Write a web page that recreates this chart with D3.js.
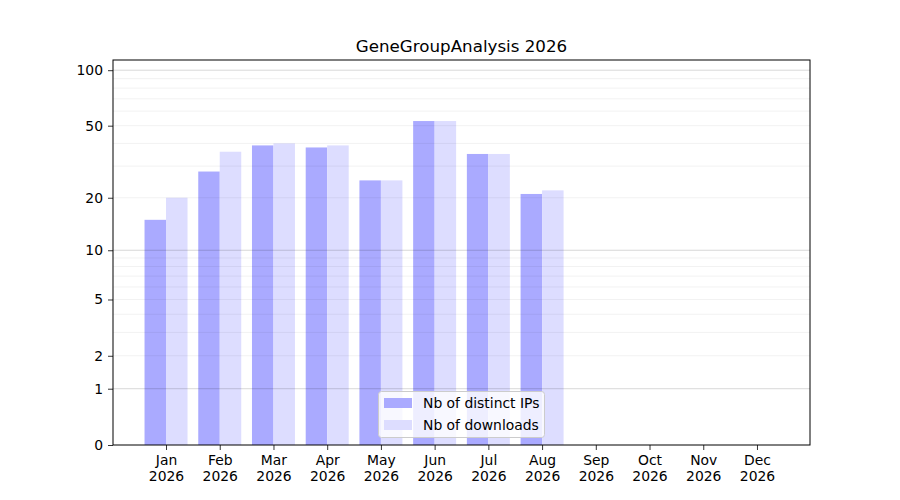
<!DOCTYPE html>
<html><head><meta charset="utf-8">
<script src="https://cdn.jsdelivr.net/npm/d3@7"></script>
<style>body{margin:0;background:#fff}svg{font-family:"DejaVu Sans",sans-serif}</style>
</head><body><svg id="c" width="900" height="500"></svg>
<script>
const title = "GeneGroupAnalysis 2026";
const months = ["Jan","Feb","Mar","Apr","May","Jun","Jul","Aug","Sep","Oct","Nov","Dec"];
const yearLabel = "2026";
const distinctIPs = [15, 28, 39, 38, 25, 53, 35, 21];
const downloads   = [20, 36, 40, 39, 25, 53, 35, 22];
const seriesNames = ["Nb of distinct IPs", "Nb of downloads"];
const seriesColors = ["#aaaaff", "#ddddff"];
const yTicks = [0, 1, 2, 5, 10, 20, 50, 100];
const majorGrid = [1, 10, 100];
const minorGrid = [2,3,4,5,6,7,8,9,20,30,40,50,60,70,80,90];

const svg = d3.select("#c");
const L = 113, R = 810, T = 60, B = 445;
const x = d3.scaleLinear().domain([-0.987, 11.987]).range([L, R]);
const y = d3.scaleSymlog().constant(1).domain([0, 113.5]).range([B, T]);
const bw = 0.4;

// bars
const g = svg.append("g");
g.selectAll("rect.ip").data(distinctIPs).join("rect")
  .attr("x", (d,i) => x(i - bw)).attr("width", (d,i) => x(i) - x(i - bw))
  .attr("y", d => y(d)).attr("height", d => y(0) - y(d))
  .attr("fill", seriesColors[0]);
g.selectAll("rect.dl").data(downloads).join("rect")
  .attr("x", (d,i) => x(i)).attr("width", (d,i) => x(i + bw) - x(i))
  .attr("y", d => y(d)).attr("height", d => y(0) - y(d))
  .attr("fill", seriesColors[1]);

// grid (on top)
svg.append("g").selectAll("line").data(minorGrid).join("line")
  .attr("x1", L).attr("x2", R).attr("y1", d => y(d)).attr("y2", d => y(d))
  .attr("stroke", "#000").attr("stroke-opacity", 0.07).attr("stroke-width", 0.8);
svg.append("g").selectAll("line").data(majorGrid).join("line")
  .attr("x1", L).attr("x2", R).attr("y1", d => y(d)).attr("y2", d => y(d))
  .attr("stroke", "#000").attr("stroke-opacity", 0.2).attr("stroke-width", 0.8);

// axes
const yAxis = d3.axisLeft(y).tickValues(yTicks).tickFormat(d3.format("d")).tickSize(5).tickPadding(5);
const ya = svg.append("g").attr("transform", `translate(${L},0)`).call(yAxis);
ya.select(".domain").remove();
ya.selectAll("text").attr("font-size", "13.9px").attr("fill", "#000").attr("font-family", "DejaVu Sans");
ya.selectAll("line").attr("stroke", "#000").attr("stroke-width", 0.8);

const xAxis = d3.axisBottom(x).tickValues(d3.range(months.length)).tickFormat(i => months[i]).tickSize(5).tickPadding(5);
const xa = svg.append("g").attr("transform", `translate(0,${B})`).call(xAxis);
xa.select(".domain").remove();
xa.selectAll("line").attr("stroke", "#000").attr("stroke-width", 0.8);
xa.selectAll("text").attr("font-size", "13.9px").attr("fill", "#000").attr("font-family", "DejaVu Sans")
  .each(function(i){
    const t = d3.select(this); t.text(null);
    t.append("tspan").attr("x", 0).attr("dy", "0.71em").text(months[i]);
    t.append("tspan").attr("x", 0).attr("dy", "1.15em").text(yearLabel);
  }).attr("dy", null);

// frame
svg.append("rect").attr("x", L).attr("y", T).attr("width", R - L).attr("height", B - T)
  .attr("fill", "none").attr("stroke", "#000").attr("stroke-width", 1);

// title
svg.append("text").attr("x", (L + R) / 2).attr("y", 52).attr("text-anchor", "middle")
  .attr("font-size", "16.7px").attr("fill", "#000").text(title);

// legend
const lg = svg.append("g");
lg.append("rect").attr("x", 378.5).attr("y", 391.5).attr("width", 166).attr("height", 46).attr("rx", 3)
  .attr("fill", "#fff").attr("fill-opacity", 0.8).attr("stroke", "#cccccc").attr("stroke-width", 1);
seriesNames.forEach((n, k) => {
  lg.append("rect").attr("x", 384).attr("y", 398 + k * 22).attr("width", 28).attr("height", 10).attr("fill", seriesColors[k]);
  lg.append("text").attr("x", 423).attr("y", 408 + k * 22).attr("font-size", "13.9px").attr("fill", "#000").text(n);
});
</script></body></html>
